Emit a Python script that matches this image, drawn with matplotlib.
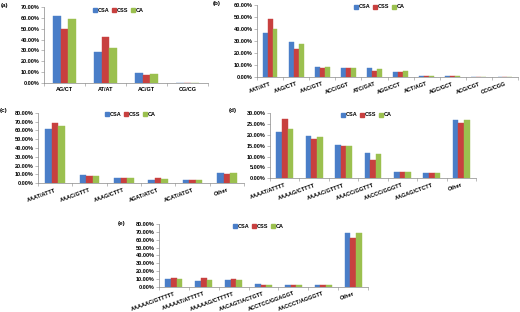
import matplotlib
matplotlib.use("Agg")
import matplotlib.pyplot as plt
import numpy as np
from matplotlib.patches import Patch

plt.rcParams['font.family'] = ['Liberation Sans', 'DejaVu Sans']

series = ['CSA', 'CSS', 'CA']
colors = ['#4A7EC8', '#C8403F', '#9BC04F']

# (a) dinucleotide
cats_a = ['AG/CT', 'AT/AT', 'AC/GT', 'CG/CG']
csa_a = [62.0, 28.5, 8.9, 0.0]
css_a = [49.5, 42.4, 7.1, 0.0]
ca_a = [58.6, 32.0, 8.0, 0.0]

# (b) trinucleotide
cats_b = ['AAT/ATT', 'AAG/CTT', 'AAC/GTT', 'ACC/GGT', 'ATC/GAT',
          'AGG/CCT', 'ACT/AGT', 'AGC/GCT', 'ACG/CGT', 'CCG/CGG']
csa_b = [36.7, 29.4, 8.6, 7.8, 7.2, 4.4, 1.2, 0.7, 0.3, 0.2]
css_b = [48.0, 23.0, 7.2, 7.8, 5.3, 3.9, 1.0, 0.6, 0.3, 0.2]
ca_b = [40.0, 27.5, 8.0, 7.8, 6.4, 4.7, 1.0, 0.7, 0.3, 0.2]

# (c) tetranucleotide
cats_c = ['AAAT/ATTT', 'AAAC/GTTT', 'AAAG/CTTT', 'AGAT/ATCT', 'ACAT/ATGT', 'Other']
csa_c = [61.8, 9.0, 6.0, 4.0, 4.0, 11.5]
css_c = [68.0, 8.0, 6.0, 5.5, 3.5, 10.0]
ca_c = [65.0, 8.7, 6.5, 4.5, 4.0, 11.5]

# (d) pentanucleotide
cats_d = ['AAAAT/ATTTT', 'AAAAG/CTTTT', 'AAAAC/GTTTT', 'AAACC/GGTTT',
          'AACCC/GGGTT', 'AAGAG/CTCTT', 'Other']
csa_d = [21.4, 19.6, 15.3, 11.6, 3.0, 2.3, 26.8]
css_d = [27.4, 18.1, 14.8, 8.4, 3.0, 2.5, 25.5]
ca_d = [22.6, 18.9, 14.7, 11.0, 3.0, 2.3, 26.8]

# (e) hexanucleotide
cats_e = ['AAAAAC/GTTTTT', 'AAAAAT/ATTTTT', 'AAAAAG/CTTTTT', 'AACAGT/ACTGTT',
          'ACCTCC/GGAGGT', 'AACCCT/AGGGTT', 'Other']
csa_e = [9.4, 6.8, 8.5, 3.0, 2.0, 2.0, 68.8]
css_e = [10.7, 11.0, 10.2, 2.0, 2.0, 2.0, 62.4]
ca_e = [9.4, 8.5, 8.5, 2.0, 2.0, 2.0, 67.9]

W, H = 520, 312
fig = plt.figure(figsize=(W / 100, H / 100), dpi=100)


def panel(box, label, label_xy, legend_xy, cats, vals, ymax, step, rot):
    l, t, r, b = box
    ax = fig.add_axes([l / W, 1 - b / H, (r - l) / W, (b - t) / H])
    x = np.arange(len(cats))
    bw = 0.19
    for i, (v, c) in enumerate(zip(vals, colors)):
        ax.bar(x + (i - 1) * bw, v, bw, color=c, edgecolor=c, linewidth=0.3)
    ax.set_xlim(-0.5, len(cats) - 0.5)
    ax.set_ylim(0, ymax)
    ax.set_yticks(np.arange(0, ymax + 0.01, step))
    ax.yaxis.set_major_formatter(plt.FuncFormatter(lambda v, p: '%.2f%%' % v))
    ax.set_xticks(x)
    if rot:
        ax.set_xticklabels(cats, rotation=20, ha='right', rotation_mode='anchor')
    else:
        ax.set_xticklabels(cats)
    ax.set_xticks(np.arange(-0.5, len(cats)), minor=True)
    ax.tick_params(axis='x', which='major', length=0, labelsize=4, pad=3)
    ax.tick_params(axis='x', which='minor', length=2, width=0.4, color='#888888')
    ax.tick_params(axis='y', length=2, width=0.4, color='#888888', labelsize=4, pad=1)
    for lab in ax.get_xticklabels() + ax.get_yticklabels():
        lab.set_fontweight('bold')
    for s in ['top', 'right']:
        ax.spines[s].set_visible(False)
    for s in ['left', 'bottom']:
        ax.spines[s].set_color('#888888')
        ax.spines[s].set_linewidth(0.5)
    fig.text(label_xy[0] / W, 1 - label_xy[1] / H, label, fontsize=4.5,
             fontweight='bold', va='center', ha='left')
    handles = [Patch(facecolor=c, edgecolor=c) for c in colors]
    fig.legend(handles, series, loc='center left',
               bbox_to_anchor=(legend_xy[0] / W, 1 - legend_xy[1] / H),
               ncol=3, frameon=False, fontsize=4, handlelength=0.7,
               handleheight=0.7, handletextpad=0.2, columnspacing=0.4,
               borderpad=0, borderaxespad=0, prop={'weight': 'bold', 'size': 4})
    return ax


panel((44, 7, 208, 83), '(a)', (1, 6), (93, 10), cats_a, [csa_a, css_a, ca_a], 70, 10, False)
panel((257, 5, 518, 77), '(b)', (213, 4), (354, 7), cats_b, [csa_b, css_b, ca_b], 60, 10, True)
panel((38, 112.7, 244, 183.3), '(c)', (0, 110), (105, 114), cats_c, [csa_c, css_c, ca_c], 80, 10, True)
panel((270, 113.3, 476, 178.3), '(d)', (229, 110), (341, 115), cats_d, [csa_d, css_d, ca_d], 30, 5, True)
panel((159, 224, 368, 286.7), '(e)', (118, 224), (233, 226), cats_e, [csa_e, css_e, ca_e], 80, 10, True)

fig.savefig('out.png', dpi=100)
